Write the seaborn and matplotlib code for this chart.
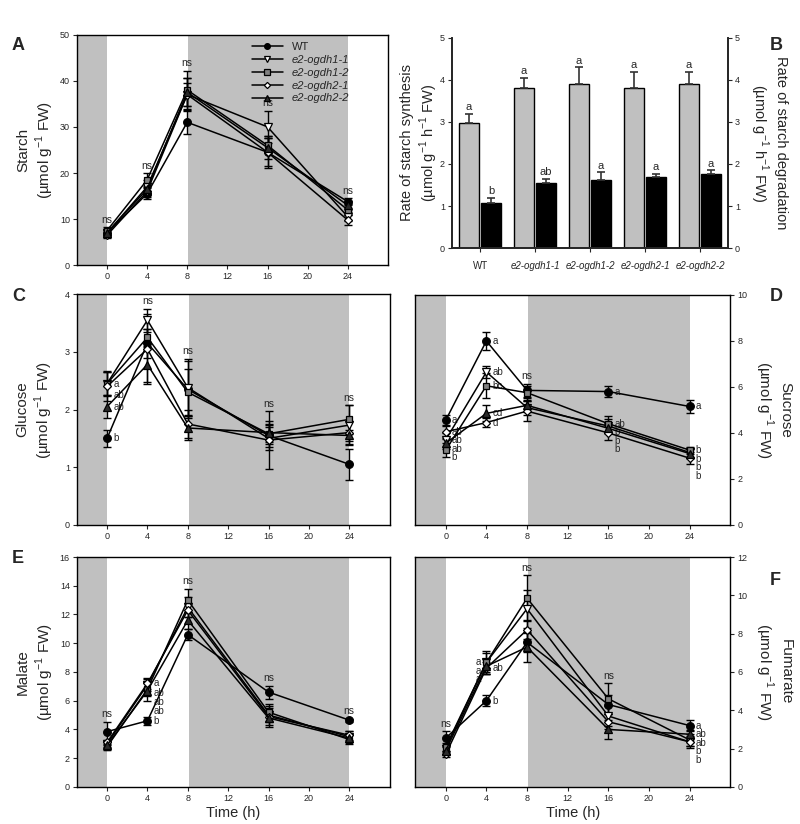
import numpy as np
import pandas as pd
import matplotlib
matplotlib.use('Agg')
import matplotlib.pyplot as plt
import seaborn as sns

sns.set_theme(style='ticks')
plt.rcParams['font.family'] = ['Liberation Sans', 'DejaVu Sans']
plt.rcParams['mathtext.fontset'] = 'custom'
plt.rcParams['mathtext.rm'] = 'Liberation Sans'

# ---- data ----
time = [0, 4, 8, 16, 24]
genotypes = ['WT', 'e2-ogdh1-1', 'e2-ogdh1-2', 'e2-ogdh2-1', 'e2-ogdh2-2']

starch = {'WT': [7.0, 15.5, 31.0, 24.5, 13.8],
          'e2-ogdh1-1': [7.0, 17.0, 37.0, 30.0, 10.5],
          'e2-ogdh1-2': [7.5, 18.5, 38.0, 26.0, 12.0],
          'e2-ogdh2-1': [6.5, 16.0, 37.0, 24.5, 9.8],
          'e2-ogdh2-2': [7.0, 16.5, 37.5, 25.5, 13.0]}
starch_err = {'WT': [0.8, 1.2, 2.6, 3.0, 0.8],
              'e2-ogdh1-1': [0.8, 1.5, 3.5, 3.5, 1.0],
              'e2-ogdh1-2': [0.8, 1.5, 4.2, 1.5, 1.2],
              'e2-ogdh2-1': [0.6, 1.2, 2.5, 3.5, 1.0],
              'e2-ogdh2-2': [0.7, 1.3, 3.0, 2.5, 1.0]}

glucose = {'WT': [1.5, 3.15, 2.35, 1.55, 1.05],
           'e2-ogdh1-1': [2.45, 3.55, 2.38, 1.5, 1.73],
           'e2-ogdh1-2': [2.45, 3.25, 2.3, 1.58, 1.83],
           'e2-ogdh2-1': [2.4, 3.05, 1.75, 1.47, 1.6],
           'e2-ogdh2-2': [2.05, 2.78, 1.68, 1.6, 1.55]}
glucose_err = {'WT': [0.15, 0.25, 0.5, 0.2, 0.27],
               'e2-ogdh1-1': [0.2, 0.2, 0.5, 0.2, 0.35],
               'e2-ogdh1-2': [0.22, 0.15, 0.4, 0.15, 0.25],
               'e2-ogdh2-1': [0.25, 0.6, 0.25, 0.5, 0.2],
               'e2-ogdh2-2': [0.2, 0.3, 0.2, 0.2, 0.1]}

sucrose = {'WT': [4.55, 8.0, 5.85, 5.8, 5.15],
           'e2-ogdh1-1': [3.7, 6.65, 5.1, 4.3, 3.15],
           'e2-ogdh1-2': [3.25, 6.05, 5.75, 4.4, 3.25],
           'e2-ogdh2-1': [4.05, 4.45, 4.95, 4.0, 2.9],
           'e2-ogdh2-2': [3.55, 4.85, 5.2, 4.2, 3.1]}
sucrose_err = {'WT': [0.25, 0.4, 0.3, 0.25, 0.3],
               'e2-ogdh1-1': [0.3, 0.25, 0.3, 0.3, 0.2],
               'e2-ogdh1-2': [0.3, 0.55, 0.3, 0.35, 0.15],
               'e2-ogdh2-1': [0.3, 0.2, 0.45, 0.3, 0.25],
               'e2-ogdh2-2': [0.25, 0.35, 0.3, 0.2, 0.2]}

malate = {'WT': [3.85, 4.6, 10.6, 6.6, 4.65],
          'e2-ogdh1-1': [3.0, 7.1, 12.5, 5.0, 3.5],
          'e2-ogdh1-2': [2.8, 6.8, 13.0, 5.2, 3.3],
          'e2-ogdh2-1': [3.1, 7.2, 12.3, 4.9, 3.6],
          'e2-ogdh2-2': [2.9, 6.7, 11.6, 4.8, 3.4]}
malate_err = {'WT': [0.7, 0.3, 0.4, 0.45, 0.1],
              'e2-ogdh1-1': [0.2, 0.4, 0.7, 0.5, 0.4],
              'e2-ogdh1-2': [0.2, 0.5, 0.8, 0.6, 0.3],
              'e2-ogdh2-1': [0.2, 0.4, 0.5, 0.7, 0.3],
              'e2-ogdh2-2': [0.2, 0.7, 0.6, 0.5, 0.3]}

fumarate = {'WT': [2.55, 4.5, 7.55, 4.3, 3.2],
            'e2-ogdh1-1': [2.0, 6.5, 9.3, 3.7, 2.35],
            'e2-ogdh1-2': [2.1, 6.5, 9.85, 4.6, 2.45],
            'e2-ogdh2-1': [1.7, 6.2, 8.2, 3.4, 2.35],
            'e2-ogdh2-2': [1.9, 6.3, 7.3, 3.0, 2.75]}
fumarate_err = {'WT': [0.35, 0.3, 0.5, 0.5, 0.3],
                'e2-ogdh1-1': [0.2, 0.6, 1.0, 0.5, 0.3],
                'e2-ogdh1-2': [0.2, 0.5, 1.2, 0.8, 0.3],
                'e2-ogdh2-1': [0.15, 0.3, 0.5, 0.4, 0.2],
                'e2-ogdh2-2': [0.2, 0.4, 0.8, 0.5, 0.2]}

# starch rates (panel B)
synth = [2.97, 3.8, 3.9, 3.8, 3.9]
synth_err = [0.22, 0.25, 0.4, 0.4, 0.3]
degr = [1.08, 1.55, 1.62, 1.7, 1.75]
degr_err = [0.12, 0.1, 0.18, 0.07, 0.1]
synth_letters = ['a', 'a', 'a', 'a', 'a']
degr_letters = ['b', 'ab', 'a', 'a', 'a']

# significance labels, per time point (one letter per genotype)
starch_ns = [0, 4, 8, 16, 24]
glucose_ns = [4, 8, 16, 24]
glucose_letters = {0: ['b', 'a', '', 'ab', 'ab']}
sucrose_ns = [8]
sucrose_letters = {0: ['a', 'ab', 'b', 'ab', 'ab'],
                   4: ['a', 'ab', 'bc', 'd', 'cd'],
                   16: ['a', 'b', 'ab', 'b', 'b'],
                   24: ['a', 'b', 'b', 'b', 'b']}
malate_ns = [0, 8, 16, 24]
malate_letters = {4: ['b', 'ab', 'ab', 'a', 'ab']}
fumarate_ns = [0, 8, 16]
fumarate_letters = {4: ['b', 'a', 'a', 'ab', 'a'],
                    24: ['a', 'b', 'ab', 'b', 'ab']}

# ---- styles ----
shade = '#c0c0c0'
marker = {'WT': 'o', 'e2-ogdh1-1': 'v', 'e2-ogdh1-2': 's',
          'e2-ogdh2-1': 'D', 'e2-ogdh2-2': '^'}
face = {'WT': 'black', 'e2-ogdh1-1': 'white', 'e2-ogdh1-2': '#808080',
        'e2-ogdh2-1': 'white', 'e2-ogdh2-2': '#2a2a2a'}
msize = {'WT': 5.5, 'e2-ogdh1-1': 5.5, 'e2-ogdh1-2': 5, 'e2-ogdh2-1': 4.2, 'e2-ogdh2-2': 5.5}

fig = plt.figure(figsize=(8, 8.24), dpi=100)
axA = fig.add_axes([0.096, 0.678, 0.389, 0.280])
axB = fig.add_axes([0.565, 0.699, 0.345, 0.255])
axC = fig.add_axes([0.096, 0.363, 0.391, 0.280])
axD = fig.add_axes([0.519, 0.363, 0.394, 0.279])
axE = fig.add_axes([0.096, 0.045, 0.391, 0.279])
axF = fig.add_axes([0.519, 0.045, 0.394, 0.279])


def style_axis(ax, ymax, ystep):
    ax.set_xlim(-3, 28)
    ax.set_ylim(0, ymax)
    ax.set_xticks([0, 4, 8, 12, 16, 20, 24])
    ax.set_yticks(np.arange(0, ymax + 0.01, ystep))
    ax.tick_params(labelsize=6.5, length=3, width=0.8, direction='out', pad=2)
    for s in ax.spines.values():
        s.set_linewidth(1)
        s.set_color('black')
    ax.set_xlabel('')


def time_panel(ax, vals, errs, ymax, ystep, ns_times, letters, gap, left_side=None):
    ax.axvspan(-3, 0, color=shade, lw=0, zorder=0)
    ax.axvspan(8.1, 24, color=shade, lw=0, zorder=0)
    for g in genotypes:
        ax.errorbar(time, vals[g], yerr=errs[g], fmt='none', ecolor='black',
                    elinewidth=1, capsize=2.8, capthick=1, zorder=3)
        sns.lineplot(x=time, y=vals[g], ax=ax, color='black', lw=1.1,
                     marker=marker[g], markerfacecolor=face[g], markeredgecolor='black',
                     markeredgewidth=0.9, markersize=msize[g], label=g, legend=False,
                     zorder=4)
    # "ns" above the highest error bar
    for t in ns_times:
        i = time.index(t)
        top = max(vals[g][i] + errs[g][i] for g in genotypes)
        ax.text(t, top + ymax * 0.01, 'ns', ha='center', va='bottom', fontsize=7.5)
    # letters stacked beside the points
    for t, labs in letters.items():
        i = time.index(t)
        for side in ('r', 'l'):
            items = []
            for k, g in enumerate(genotypes):
                s = 'r' if left_side is None or t not in left_side else left_side[t][k]
                if labs[k] and s == side:
                    items.append((vals[g][i], labs[k]))
            items.sort(reverse=True)
            prev = None
            for y, lab in items:
                if prev is not None and y > prev - gap:
                    y = prev - gap
                prev = y
                if side == 'r':
                    ax.text(t + 0.6, y, lab, ha='left', va='center', fontsize=7)
                else:
                    ax.text(t - 0.5, y, lab, ha='right', va='center', fontsize=7)
    style_axis(ax, ymax, ystep)
    ax.set_ylabel('')


ylab = '\n(µmol g$^{-1}$ FW)'


def right_label(ax, text, x, size=11):
    ax.text(x, 0.5, text, transform=ax.transAxes, rotation=270, ha='center',
            va='center', multialignment='center', fontsize=size)


# A
time_panel(axA, starch, starch_err, 50, 10, starch_ns, {}, 1)
axA.set_ylabel('Starch' + ylab, fontsize=11, labelpad=3)
leg = axA.legend(loc='upper right', bbox_to_anchor=(0.90, 1.0), frameon=False,
                 fontsize=8, handlelength=2.8, labelspacing=0.25, borderpad=0.2,
                 markerscale=0.75)
for i, txt in enumerate(leg.get_texts()):
    if i > 0:
        txt.set_style('italic')

# B
rates = pd.DataFrame({
    'genotype': genotypes * 2,
    'rate': synth + degr,
    'kind': ['synthesis'] * 5 + ['degradation'] * 5,
})
sns.barplot(data=rates, x='genotype', y='rate', hue='kind', ax=axB,
            palette=[shade, 'black'], edgecolor='black', linewidth=1,
            width=0.8, gap=0.06, legend=False, errorbar=None)
bars = axB.patches
all_err = synth_err + degr_err
all_lab = synth_letters + degr_letters
for p, e, lab in zip(bars, all_err, all_lab):
    cx = p.get_x() + p.get_width() / 2
    h = p.get_height()
    axB.errorbar(cx, h, yerr=[[0], [e]], fmt='none', ecolor='#333333',
                 elinewidth=1.2, capsize=3, capthick=1.2)
    axB.text(cx, h + e + 0.04, lab, ha='center', va='bottom', fontsize=8)
axB.set_xlim(-0.51, 4.51)
axB.set_ylim(0, 5)
axB.set_yticks(range(6))
axB.set_xlabel('')
axB.set_ylabel('Rate of starch synthesis\n(µmol g$^{-1}$ h$^{-1}$ FW)', fontsize=10.5)
axB.yaxis.set_label_coords(-0.045, 0.5)
axB.tick_params(labelsize=6.5, length=3, width=0.8, pad=2)
axB.tick_params(axis='x', labelsize=7, pad=6)
for i, t in enumerate(axB.get_xticklabels()):
    if i > 0:
        t.set_style('italic')
axB.spines['top'].set_visible(False)
axB2 = axB.twinx()
axB2.set_ylim(0, 5)
axB2.set_yticks(range(6))
axB2.tick_params(labelsize=6.5, length=3, width=0.8, pad=2)
axB2.spines['top'].set_visible(False)
right_label(axB2, 'Rate of starch degradation\n(µmol g$^{-1}$ h$^{-1}$ FW)', 1.145, 10.5)

# C
time_panel(axC, glucose, glucose_err, 4, 1, glucose_ns, glucose_letters, 0.2)
axC.set_ylabel('Glucose' + ylab, fontsize=11, labelpad=7)

# D
time_panel(axD, sucrose, sucrose_err, 10, 2, sucrose_ns, sucrose_letters, 0.37)
axD.yaxis.tick_right()
right_label(axD, 'Sucrose' + ylab, 1.135)

# E
time_panel(axE, malate, malate_err, 16, 2, malate_ns, malate_letters, 0.65)
axE.set_ylabel('Malate' + ylab, fontsize=11, labelpad=3)
axE.set_xlabel('Time (h)', fontsize=10.5, labelpad=2)

# F
fum_side = {4: ['r', 'l', 'l', 'r', 'l'], 24: ['r'] * 5}
time_panel(axF, fumarate, fumarate_err, 12, 2, fumarate_ns, fumarate_letters, 0.44, fum_side)
axF.yaxis.tick_right()
right_label(axF, 'Fumarate' + ylab, 1.135)
axF.set_xlabel('Time (h)', fontsize=10.5, labelpad=2)

# panel letters
for lab, x, y in [('A', 0.015, 0.945), ('B', 0.962, 0.945), ('C', 0.015, 0.64),
                  ('D', 0.962, 0.64), ('E', 0.015, 0.322), ('F', 0.962, 0.295)]:
    fig.text(x, y, lab, fontsize=13, fontweight='bold', ha='left', va='center')

fig.savefig('out.png', dpi=100)
